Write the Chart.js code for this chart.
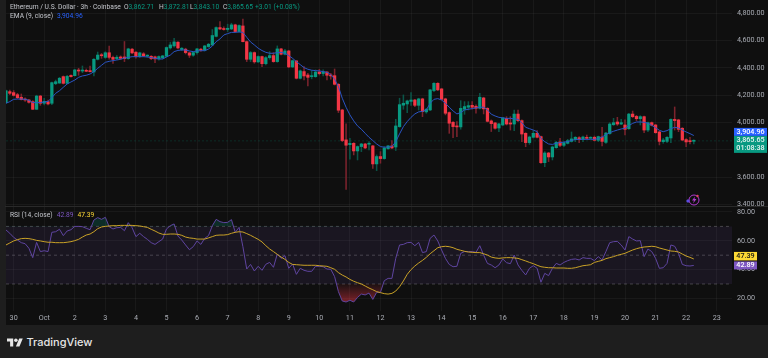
<!DOCTYPE html>
<html>
<head>
<meta charset="utf-8">
<script src="https://cdn.jsdelivr.net/npm/chart.js@4"></script>
<style>
  html, body { margin: 0; padding: 0; background: #1e1e1e; }
  body { width: 768px; height: 358px; overflow: hidden; position: relative; font-family: Roboto, sans-serif; }
  canvas { position: absolute; }
  #priceChart { left: 5px; top: 0; }
  #rsiChart { left: 5px; top: 207px; }
  #sep { position: absolute; left: 5px; right: 0; top: 206px; height: 1px; background: #2a2a2a; }
  .txt { position: absolute; font-size: 6.7px; line-height: 9px; color: #c4c6cc; white-space: nowrap; }
  .g { color: #089981; }
  #footer { position: absolute; left: 26.5px; top: 333px; font-size: 11px; line-height: 18px; font-weight: 500; color: #e6e6e6; font-family: Inter, Roboto, sans-serif; }
</style>
</head>
<body>
<canvas id="priceChart" width="763" height="206"></canvas>
<canvas id="rsiChart" width="763" height="118"></canvas>
<div id="sep"></div>

<div class="txt" style="left:10px;top:3px">Ethereum / U.S. Dollar · 3h · Coinbase</div>
<div class="txt" style="left:124px;top:3px">O<span class="g">3,862.71</span></div>
<div class="txt" style="left:159px;top:3px">H<span class="g">3,872.81</span></div>
<div class="txt" style="left:190px;top:3px">L<span class="g">3,843.10</span></div>
<div class="txt" style="left:223px;top:3px">C<span class="g">3,865.65</span></div>
<div class="txt g" style="left:255px;top:3px">+3.01 (+0.08%)</div>
<div class="txt" style="left:10px;top:12px">EMA (9, close)<span style="color:#2962ff;margin-left:4px">3,904.96</span></div>
<div class="txt" style="left:10px;top:211px">RSI (14, close)<span style="color:#7e57c2;margin-left:4px">42.89</span><span style="color:#fdd835;margin-left:4px">47.39</span></div>

<svg style="position:absolute;left:686px;top:193px" width="15" height="14" viewBox="0 0 15 14">
  <circle cx="8" cy="7" r="5" fill="none" stroke="#b03ad0" stroke-width="1"/>
  <path d="M9 3.5 6 7.5h2L7 10.5 10.5 6h-2z" fill="#b03ad0"/>
  <path d="M2 6 4 8 2 10 0 8z" fill="#5b4be0"/>
  <circle cx="11.5" cy="3" r="1.2" fill="#e04060"/>
</svg>

<svg style="position:absolute;left:7px;top:338px" width="16" height="9" viewBox="0 4 36 18">
  <path fill="#e6e6e6" d="M14 22H7V11H0V4h14v18zM28 22h-8l7.5-18h8L28 22z"/>
  <circle fill="#e6e6e6" cx="20" cy="8" r="4"/>
</svg>
<div id="footer">TradingView</div>

<script>
// values, one entry per 3h candle
const opens = [
  4146,4226,4219,4204,4185,4172,4165,4153,4097,4194,
  4141,4153,4141,4285,4289,4336,4287,4345,4343,4382,
  4377,4382,4380,4370,4463,4494,4477,4511,4477,4468,
  4480,4480,4468,4537,4515,4483,4503,4486,4485,4481,
  4466,4473,4485,4546,4561,4588,4534,4537,4510,4493,
  4512,4537,4529,4556,4568,4631,4695,4685,4681,4685,
  4715,4666,4707,4592,4463,4512,4444,4483,4431,4475,
  4490,4446,4539,4500,4524,4407,4451,4324,4373,4348,
  4336,4336,4370,4359,4370,4348,4343,4280,4092,3873,
  3838,3848,3792,3824,3843,3841,3829,3697,3751,3736,
  3809,3829,3821,3970,4127,4136,4155,4165,4126,4173,
  4078,4092,4234,4287,4246,4173,4073,4002,3973,3968,
  4097,4112,4126,4119,4104,4180,4104,4012,3997,3960,
  3982,4031,3997,3989,4062,4014,3921,3853,3892,3921,
  3897,3706,3777,3748,3816,3858,3833,3848,3862,3875,
  3889,3877,3892,3885,3892,3870,3894,3855,3919,3984,
  4004,3989,3982,3955,4062,4045,4028,4043,3945,3999,
  3982,3931,3860,3862,3887,4023,4019,3958,3875,3865,
  3862.71
];
const closes = [
  4233,4214,4199,4182,4168,4165,4148,4097,4194,4141,
  4155,4136,4292,4299,4324,4287,4338,4336,4385,4377,
  4382,4375,4372,4463,4494,4489,4511,4477,4463,4478,
  4470,4468,4539,4510,4483,4510,4488,4490,4468,4466,
  4483,4488,4549,4568,4590,4546,4544,4512,4493,4512,
  4539,4529,4561,4573,4637,4695,4685,4681,4690,4715,
  4666,4710,4592,4463,4512,4444,4483,4431,4475,4490,
  4446,4539,4500,4524,4407,4453,4324,4378,4341,4331,
  4341,4370,4358,4371,4346,4341,4280,4090,3868,3834,
  3848,3792,3824,3843,3814,3843,3697,3751,3736,3812,
  3829,3814,3975,4131,4141,4158,4165,4126,4173,4080,
  4097,4239,4287,4239,4170,4068,3995,3970,3968,4104,
  4117,4124,4112,4104,4185,4100,4009,3992,3958,3990,
  4034,3989,3989,4062,4014,3916,3853,3894,3921,3892,
  3706,3777,3748,3821,3855,3833,3853,3867,3880,3892,
  3875,3894,3884,3892,3870,3897,3862,3923,3989,3999,
  3989,3999,3950,4062,4043,4028,4043,3945,3999,3980,
  3926,3862,3872,3892,4023,4014,3950,3872,3858,3860,
  3865.65
];
const highs = [
  4238,4238,4234,4214,4209,4180,4170,4160,4200,4199,
  4177,4165,4297,4311,4331,4341,4345,4350,4390,4397,
  4414,4392,4414,4468,4516,4506,4519,4560,4487,4490,
  4488,4593,4544,4544,4520,4515,4512,4496,4490,4486,
  4488,4492,4554,4588,4617,4593,4549,4544,4515,4517,
  4544,4544,4564,4580,4681,4700,4739,4700,4720,4727,
  4720,4715,4758,4597,4520,4517,4488,4487,4483,4519,
  4512,4561,4544,4536,4529,4458,4453,4385,4409,4361,
  4380,4385,4390,4385,4373,4361,4392,4285,4097,3990,
  3885,3853,3829,3848,3848,3860,3834,3763,3787,3824,
  3834,3868,4024,4178,4202,4165,4219,4170,4178,4178,
  4104,4243,4292,4292,4251,4178,4078,4007,4007,4160,
  4153,4153,4153,4129,4214,4185,4109,4019,4002,3995,
  4038,4043,4043,4092,4092,4019,3926,3901,3941,3941,
  3901,3787,3782,3828,3862,3884,3858,3877,3931,3897,
  3897,3901,3909,3896,3901,3901,3965,3928,3999,4031,
  4038,4024,4019,4067,4084,4053,4050,4048,4004,4004,
  3987,3936,3884,3897,4028,4114,4024,3963,3882,3892,
  3872.81
];
const lows = [
  4141,4204,4194,4175,4165,4155,4141,4095,4095,4126,
  4129,4129,4131,4277,4287,4282,4285,4333,4341,4346,
  4365,4372,4370,4341,4458,4470,4470,4463,4433,4460,
  4462,4446,4463,4505,4471,4476,4483,4478,4461,4439,
  4456,4466,4480,4537,4551,4539,4526,4502,4476,4485,
  4500,4520,4524,4550,4563,4627,4680,4676,4666,4680,
  4661,4661,4590,4446,4446,4434,4439,4409,4422,4463,
  4441,4441,4495,4495,4402,4402,4319,4319,4312,4268,
  4320,4331,4348,4341,4312,4317,4275,4073,3860,3511,
  3731,3763,3726,3787,3809,3799,3665,3648,3702,3731,
  3804,3809,3795,3965,4097,4073,4126,4117,4092,4043,
  4068,4087,4226,4234,4165,4056,3921,3890,3897,3951,
  4060,4092,4097,4068,4100,4063,4004,3934,3951,3934,
  3977,3982,3945,3941,4006,3860,3823,3840,3887,3887,
  3701,3677,3714,3726,3811,3823,3823,3843,3857,3860,
  3853,3860,3877,3880,3865,3860,3828,3848,3914,3979,
  3979,3984,3909,3950,4036,4014,3982,3926,3933,3975,
  3921,3836,3848,3853,3853,3945,3933,3867,3823,3843,
  3843.10
];
const emaValues = [
  4141,4153,4170,4172,4172,4170,4163,4146,4146,4146,
  4150,4155,4182,4214,4233,4258,4282,4297,4311,4331,
  4341,4346,4355,4372,4397,4419,4441,4448,4453,4458,
  4463,4472,4477,4482,4482,4482,4482,4480,4475,4470,
  4465,4465,4480,4494,4519,4528,4531,4531,4524,4519,
  4524,4526,4526,4538,4560,4592,4612,4641,4651,4660,
  4660,4663,4660,4624,4590,4568,4544,4527,4514,4507,
  4507,4512,4514,4507,4490,4470,4446,4424,4402,4390,
  4383,4380,4378,4373,4368,4351,4317,4263,4178,4112,
  4056,4012,3975,3951,3921,3892,3868,3843,3824,3819,
  3821,3824,3860,3917,3970,4007,4038,4063,4078,4082,
  4092,4141,4170,4175,4165,4141,4112,4085,4063,4073,
  4092,4097,4102,4107,4112,4112,4092,4061,4048,4038,
  4034,4030,4031,4026,4024,3999,3965,3955,3945,3933,
  3884,3860,3843,3840,3848,3853,3857,3860,3870,3875,
  3877,3877,3877,3877,3877,3882,3894,3911,3926,3936,
  3945,3953,3958,3977,3994,4004,4004,4002,3994,3980,
  3962,3943,3933,3941,3955,3965,3960,3945,3931,3919,
  3904.96
];
const rsiValues = [
  67.5,65.2,62.4,60.5,58.7,58,54.8,48.3,58.9,52.5,
  53.1,52.5,65.9,66.3,68,63.6,66.8,67.7,70,70,
  69.8,68.7,67.7,74.4,76.1,74.9,76.3,69.8,68.2,69.1,
  69.3,67,72.6,69.1,62.9,65.2,62.9,61,58.7,57.5,
  59.4,61.2,68.2,70.5,71.7,63.3,60.5,57.1,53.8,55.9,
  59.9,57.5,61.7,63.6,70.5,74.9,73.3,72.6,72.8,74.7,
  65.9,69.3,55.9,40.4,43.6,39,42.3,39.5,43.7,45,
  41.6,50.8,47.8,49.7,40.9,43.9,36.7,40.9,39.5,38.8,
  38.8,42.3,42.3,42,40.4,40.2,35.1,24.7,18.2,17.5,
  18.7,17.5,20.7,23,22.4,23.7,19.3,24.2,24.2,32.3,
  33.9,33.9,47.8,57.1,57.5,58.7,58.9,56.6,58.9,51.8,
  52.5,61.7,64,59.9,53.6,47.8,43.6,42,42.3,51.3,
  52.5,52.5,52.5,52,56.6,50.1,44.3,43.2,41.3,43.2,
  47.4,44.8,44.1,50.1,43.2,39.5,36.3,40.9,42.7,40.9,
  31.2,37.4,35.8,40.9,44.3,43.2,45,46.2,47.1,47.4,
  46.7,48.3,47.8,47.8,46.2,49,46.7,52.5,58.7,59.4,
  59.6,57.1,53.6,62.9,61.2,59.9,60.1,49,54.3,52.5,
  47.8,40.9,41.3,44.3,57.1,56.2,51.3,43.6,42.7,42.5,
  42.89
];
const rsiMaValues = [
  57.1,58.5,59.9,60.8,61.5,61.7,61.5,61,60.3,59.9,
  59.4,59,59,58.7,58.7,58.7,59,59.4,60.1,61,
  62.6,64,64.7,66.3,68.4,69.6,70,70.3,70.5,70.5,
  70.7,70.7,70.7,70.7,70.5,70.3,69.8,69.3,68,66.8,
  65.4,64.5,64.5,64.7,64.7,64.5,63.8,62.6,62,61.7,
  61.2,61.2,61.2,62,62.9,63.8,64,64,64.3,65.2,
  65.9,66.3,66.1,65,63.8,62.4,61,59.2,56.6,54.3,
  52.5,50.6,48.7,47.1,45,43.6,43.4,43.2,43,43,
  43,43,42.7,42.5,42.3,41.3,40.2,37.9,36.2,34.9,
  33.2,31.9,30.9,30,28.6,27.2,26,24.7,24,23.3,
  23,23.5,25.1,28.1,32.1,36.7,40,42.5,44.6,46.4,
  48.5,51,53.1,55.2,55.9,56.2,55.9,55.2,54.1,53.4,
  52.7,52.2,52,51.8,51.8,51,50.1,48.7,48.1,47.8,
  48.1,48.3,48.3,48.1,47.8,46.9,46,45,44.1,43,
  42,41.6,41.3,41.3,41.1,41.1,41.1,40.9,40.9,41.3,
  42,42.7,43,43.4,45,45.7,46.4,47.6,48.3,49,
  49.9,50.6,51.3,52.5,53.6,54.5,55.2,55.7,55.9,56.2,
  55.9,55,54.3,53.6,52.9,52.7,52.2,50.8,49.4,48.5,
  47.39
];

const dayLabels = ['30','Oct','2','3','4','5','6','7','8','9','10','11','12','13','14','15','16','17','18','19','20','21','22','23'];
const priceTicks = [3400,3600,3800,4000,4200,4400,4600,4800];
const rsiTicks = [20,40,60,80];
const rsiBands = [70,50,30];
const lastPrice = 3865.65, lastEma = 3904.96, lastRsi = 42.89, lastRsiMa = 47.39;
const countdown = '01:08:38';

const SLOTS = 191;        // candles plus the empty space on the right
const perDay = 8;
const labels = [];
const dayTicks = [];
for (let i = 0; i < SLOTS; i++) {
  let k = (i - 2) / perDay;
  if (Number.isInteger(k) && dayLabels[k]) {
    labels.push(dayLabels[k]);
    dayTicks.push(i);
  } else {
    labels.push('');
  }
}

const UP = '#089981', DOWN = '#f23645';
const UP_WICK = '#0a5548', DOWN_WICK = '#7c232d';
const GRID = 'rgba(255,255,255,0.045)';
const AXIS_TEXT = '#a9acb4';
const axisFont = { family: 'Roboto, sans-serif', size: 7.2 };

Chart.defaults.animation = false;
Chart.defaults.responsive = false;

const isUp = opens.map((o, i) => closes[i] >= o);
const bandColor = 'rgba(126,87,194,0.1)';

// plot background
const paneBg = {
  id: 'paneBg',
  beforeDraw(chart) {
    let c = chart.ctx;
    c.save();
    c.fillStyle = '#0f0f0f';
    c.fillRect(1, 0, chart.width - 1, chart.height);
    c.restore();
  }
};

function tag(c, x, y, w, h, bg, fg, lines) {
  c.fillStyle = bg;
  c.fillRect(x, y, w, h);
  c.fillStyle = fg;
  c.font = '500 7.2px Roboto, sans-serif';
  c.textAlign = 'center';
  c.textBaseline = 'middle';
  lines.forEach((t, i) => c.fillText(t, x + w / 2, y + h / (lines.length * 2) * (2 * i + 1)));
}

// y axis must reach the very edge of the pane, and no side padding on x
function flushY(s) {
  s.width = 36;
  s.paddingTop = 0;
  s.paddingBottom = 0;
}

const priceTags = {
  id: 'priceTags',
  afterDraw(chart) {
    let c = chart.ctx;
    let y0 = chart.scales.y.getPixelForValue(lastPrice);
    c.save();
    tag(c, 729, y0 - 5, 33, 17, UP, '#e8f5f2', ['3,865.65', countdown]);
    tag(c, 729, y0 - 13, 33, 8, '#2962ff', '#ffffff', ['3,904.96']);
    c.restore();
  }
};

const rsiTags = {
  id: 'rsiTags',
  afterDraw(chart) {
    let c = chart.ctx;
    let y0 = chart.scales.y.getPixelForValue(lastRsi);
    c.save();
    tag(c, 729, y0 - 4, 23, 8, '#7e57c2', '#ffffff', ['42.89']);
    tag(c, 729, y0 - 13.5, 23, 8.5, '#fdd835', '#131313', ['47.39']);
    c.restore();
  }
};

new Chart(document.getElementById('priceChart'), {
  type: 'bar',
  data: {
    labels: labels,
    datasets: [
      { type: 'line', data: emaValues, borderColor: '#2b55c4', borderWidth: 1, pointRadius: 0, tension: 0, order: 0 },
      { data: opens.map((o, i) => [o, closes[i]]), backgroundColor: isUp.map(u => u ? UP : DOWN),
        barThickness: 2.6, minBarLength: 1, grouped: false, order: 1 },
      { data: lows.map((l, i) => [l, highs[i]]), backgroundColor: isUp.map(u => u ? UP_WICK : DOWN_WICK),
        barThickness: 0.9, grouped: false, order: 2 },
      { type: 'line', data: labels.map(() => lastPrice), borderColor: 'rgba(8,153,129,0.22)', borderWidth: 1,
        borderDash: [2, 2], pointRadius: 0, order: 3 }
    ]
  },
  options: {
    layout: { padding: { left: 1 } },
    plugins: { legend: { display: false }, tooltip: { enabled: false } },
    scales: {
      x: {
        offset: false,
        afterBuildTicks: s => { s.ticks = dayTicks.map(v => ({ value: v })); },
        afterFit: s => { s.height = 0; s.paddingLeft = 0; s.paddingRight = 0; },
        ticks: { display: false, autoSkip: false },
        grid: { color: GRID, drawTicks: false, offset: false },
        border: { display: false }
      },
      y: {
        position: 'right',
        min: 3389,
        max: 4897,
        afterBuildTicks: s => { s.ticks = priceTicks.map(v => ({ value: v })); },
        afterFit: flushY,
        ticks: {
          color: AXIS_TEXT, font: axisFont, padding: 5,
          callback: v => v.toLocaleString('en-US', { minimumFractionDigits: 2 })
        },
        grid: { color: GRID, drawTicks: false },
        border: { display: false }
      }
    }
  },
  plugins: [paneBg, priceTags]
});

const rsiCanvas = document.getElementById('rsiChart');
const oversoldFill = rsiCanvas.getContext('2d').createLinearGradient(0, 78, 0, 98);
oversoldFill.addColorStop(0, 'rgba(242,54,69,0.08)');
oversoldFill.addColorStop(1, 'rgba(242,54,69,0.55)');

const bandLine = v => ({
  type: 'line', data: labels.map(() => v), borderColor: 'rgba(255,255,255,0.22)', borderWidth: 1,
  borderDash: [3, 3], pointRadius: 0, order: 5
});

let bandLines = rsiBands.map(bandLine);
bandLines[0].fill = { target: 2, above: bandColor, below: bandColor };

new Chart(rsiCanvas, {
  type: 'line',
  data: {
    labels: labels,
    datasets: bandLines.concat([
      { data: rsiValues, borderColor: '#5f45a0', borderWidth: 1, pointRadius: 0, tension: 0, order: 1,
        fill: { target: { value: 30 }, above: 'transparent', below: oversoldFill } },
      { data: rsiValues, borderColor: 'transparent', borderWidth: 0, pointRadius: 0, tension: 0, order: 2,
        fill: { target: { value: 70 }, above: 'rgba(8,153,129,0.22)', below: 'transparent' } },
      { data: rsiMaValues, borderColor: '#c9a227', borderWidth: 1, pointRadius: 0, tension: 0, order: 0 }
    ])
  },
  options: {
    layout: { padding: { left: 1 } },
    plugins: { legend: { display: false }, tooltip: { enabled: false } },
    scales: {
      x: {
        offset: false,
        afterBuildTicks: s => { s.ticks = dayTicks.map(v => ({ value: v })); },
        afterFit: s => { s.height = 14; s.paddingLeft = 0; s.paddingRight = 0; },
        ticks: { color: AXIS_TEXT, font: axisFont, autoSkip: false, maxRotation: 0, padding: 3 },
        grid: { color: GRID, drawTicks: false },
        border: { display: false }
      },
      y: {
        position: 'right',
        min: 11.25,
        max: 83.47,
        afterBuildTicks: s => { s.ticks = rsiTicks.map(v => ({ value: v })); },
        afterFit: flushY,
        ticks: {
          color: AXIS_TEXT, font: axisFont, padding: 5,
          callback: v => v.toFixed(2)
        },
        grid: { color: GRID, drawTicks: false },
        border: { display: false }
      }
    }
  },
  plugins: [paneBg, rsiTags]
});
</script>
</body>
</html>
